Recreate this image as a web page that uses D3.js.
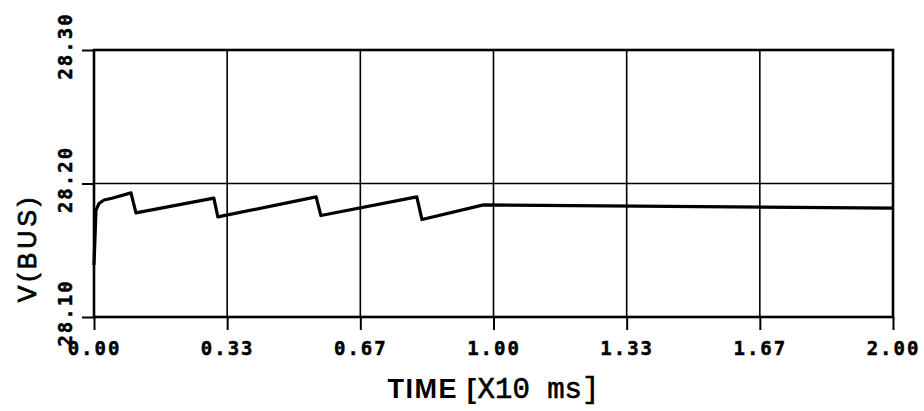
<!DOCTYPE html>
<html>
<head>
<meta charset="utf-8">
<script src="https://cdn.jsdelivr.net/npm/d3@7"></script>
<style>
  html, body { margin: 0; padding: 0; background: #fff; }
  svg { display: block; }
</style>
</head>
<body>
<svg id="chart" width="924" height="411"></svg>
<script>
// ---- data ----
const timeValues = [0.000, 0.005, 0.0125, 0.025, 0.045, 0.0926, 0.105, 0.300, 0.310, 0.556, 0.568, 0.808, 0.821, 0.975, 2.000];
const busVoltage = [28.139, 28.180, 28.185, 28.1876, 28.189, 28.193, 28.178, 28.189, 28.175, 28.190, 28.176, 28.190, 28.173, 28.184, 28.1816];
const xTickValues = [0, 1/3, 2/3, 1, 4/3, 5/3, 2];
const xTickLabels = ["0.00", "0.33", "0.67", "1.00", "1.33", "1.67", "2.00"];
const yTickValues = [28.10, 28.20, 28.30];
const yTickLabels = ["28.10", "28.20", "28.30"];
const xTitle = ["TIME [", "X10 ms]"];
const yTitle = "V(BUS)";

// ---- layout ----
const margin = { left: 94, top: 50, right: 924 - 893, bottom: 411 - 317 };
const svg = d3.select("#chart");
const W = 924, H = 411;
const x = d3.scaleLinear().domain([0, 2]).range([margin.left, W - margin.right]);
const y = d3.scaleLinear().domain([28.10, 28.30]).range([H - margin.bottom, margin.top]);

svg.append("rect").attr("width", W).attr("height", H).attr("fill", "#fff");

// vertical grid lines
svg.append("g")
  .selectAll("line")
  .data(xTickValues.slice(1, -1))
  .join("line")
  .attr("x1", d => x(d)).attr("x2", d => x(d))
  .attr("y1", y(28.30)).attr("y2", y(28.10))
  .attr("stroke", "#000").attr("stroke-width", 1.6);

// horizontal grid line(s)
svg.append("g")
  .selectAll("line")
  .data(yTickValues.slice(1, -1))
  .join("line")
  .attr("x1", x(0)).attr("x2", x(2))
  .attr("y1", d => y(d)).attr("y2", d => y(d))
  .attr("stroke", "#000").attr("stroke-width", 1.6);

// x axis with ticks below
const xAxis = d3.axisBottom(x)
  .tickValues(xTickValues)
  .tickSize(13)
  .tickPadding(6)
  .tickFormat((d, i) => xTickLabels[i]);
const gx = svg.append("g").attr("transform", `translate(0,${y(28.10)})`).call(xAxis);
gx.select(".domain").remove();
gx.selectAll(".tick line").attr("stroke", "#000").attr("stroke-width", 2);
gx.selectAll(".tick text")
  .attr("fill", "#000")
  .attr("stroke", "#000")
  .attr("stroke-width", 0.5)
  .attr("font-family", "'DejaVu Sans Mono', monospace")
  .attr("font-weight", "bold")
  .attr("font-size", 19)
  .attr("letter-spacing", 2)
  .attr("dy", "1.0em");

// y axis ticks (left)
const yAxis = d3.axisLeft(y)
  .tickValues(yTickValues)
  .tickSize(12)
  .tickFormat("");
const gy = svg.append("g").attr("transform", `translate(${x(0)},0)`).call(yAxis);
gy.select(".domain").remove();
gy.selectAll(".tick line").attr("stroke", "#000").attr("stroke-width", 2);

// rotated y tick labels
svg.append("g")
  .selectAll("text")
  .data(yTickValues)
  .join("text")
  .attr("transform", d => `translate(72,${y(d) - 4}) rotate(-90)`)
  .attr("text-anchor", "middle")
  .attr("font-family", "'DejaVu Sans Mono', monospace")
  .attr("font-weight", "bold")
  .attr("font-size", 19)
  .attr("letter-spacing", 2)
  .attr("fill", "#000")
  .attr("stroke", "#000")
  .attr("stroke-width", 0.5)
  .text((d, i) => yTickLabels[i]);

// frame
svg.append("rect")
  .attr("x", x(0)).attr("y", y(28.30))
  .attr("width", x(2) - x(0)).attr("height", y(28.10) - y(28.30))
  .attr("fill", "none").attr("stroke", "#000").attr("stroke-width", 2.6);

// data line
const pts = timeValues.map((t, i) => [t, busVoltage[i]]);
svg.append("path")
  .datum(pts)
  .attr("d", d3.line().x(d => x(d[0])).y(d => y(d[1])))
  .attr("fill", "none")
  .attr("stroke", "#000")
  .attr("stroke-width", 3.2)
  .attr("stroke-linejoin", "round");

// x title
const xt = svg.append("text")
  .attr("x", (x(0) + x(2)) / 2)
  .attr("y", 398)
  .attr("text-anchor", "middle")
  .attr("fill", "#000");
xt.append("tspan")
  .attr("font-family", "'Liberation Sans', Arial, sans-serif")
  .attr("font-weight", "bold")
  .attr("font-size", 27)
  .attr("letter-spacing", 1.5)
  .text(xTitle[0]);
xt.append("tspan")
  .attr("font-family", "'Liberation Mono', 'Courier New', monospace")
  .attr("font-size", 29)
  .attr("stroke", "#000")
  .attr("stroke-width", 0.6)
  .text(xTitle[1]);

// y title
svg.append("text")
  .attr("transform", `translate(36,248) rotate(-90)`)
  .attr("text-anchor", "middle")
  .attr("font-family", "'Liberation Sans', Arial, sans-serif")
  .attr("font-size", 25)
  .attr("letter-spacing", 4)
  .attr("fill", "#000")
  .attr("stroke", "#000")
  .attr("stroke-width", 0.8)
  .text(yTitle);
</script>
</body>
</html>
